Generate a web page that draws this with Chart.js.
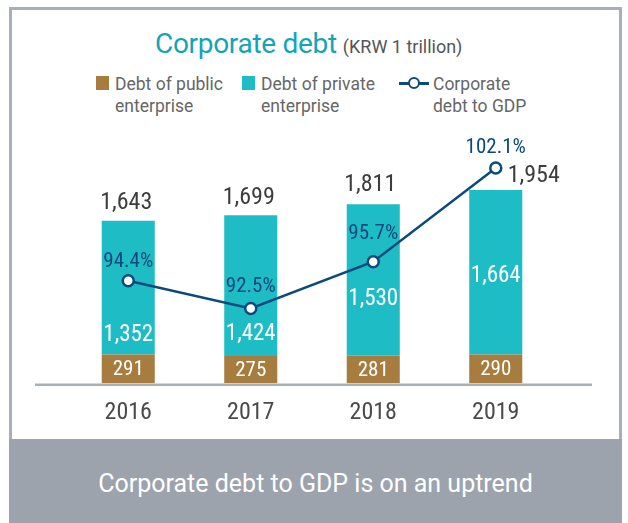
<!DOCTYPE html>
<html>
<head>
<meta charset="utf-8">
<script src="https://cdn.jsdelivr.net/npm/chart.js@4.4.1/dist/chart.umd.min.js"></script>
<style>
  html, body { margin: 0; padding: 0; background: #fff; }
  body { width: 628px; height: 523px; position: relative; overflow: hidden; font-family: Roboto, sans-serif; }
  .frame { position: absolute; left: 9px; top: 7px; width: 607px; height: 430px; border: 3px solid #a9afb8; background: #fff; }
  .footer { position: absolute; left: 9px; top: 439px; width: 613px; height: 84px; background: #9ca3ad;
            color: #fff; font-size: 25px; line-height: 30px; text-align: center; }
  .footer span { position: absolute; left: 0; right: 0; top: 30px; }
  .title { position: absolute; left: 155px; top: 28px; line-height: 32px; white-space: nowrap; }
  .title b { font-weight: 400; font-size: 28px; color: #14a4b7; letter-spacing: -0.3px; }
  .title small { font-size: 18px; color: #555; margin-left: 6px; }
  .lg-box { position: absolute; top: 76px; width: 13px; height: 14px; }
  .lg-text { position: absolute; top: 73px; font-size: 17.5px; line-height: 22px; color: #666; }
  .lg-line { position: absolute; left: 399px; top: 82px; width: 30px; height: 2.5px; background: #0c4a7d; }
  .lg-dot { position: absolute; left: 408px; top: 77px; width: 8px; height: 8px; border: 2.5px solid #0c4a7d; border-radius: 50%; background: #fff; }
  .chart-box { position: absolute; left: 0; top: 0; width: 628px; height: 440px; }
</style>
</head>
<body>
<div class="frame"></div>
<div class="footer"><span>Corporate debt to GDP is on an uptrend</span></div>

<div class="title"><b>Corporate debt</b><small>(KRW 1 trillion)</small></div>

<div class="lg-box" style="left:96px;background:#a67d3f"></div>
<div class="lg-text" style="left:115px">Debt of public<br>enterprise</div>
<div class="lg-box" style="left:242px;background:#1ebdc6"></div>
<div class="lg-text" style="left:261px">Debt of private<br>enterprise</div>
<div class="lg-line"></div>
<div class="lg-dot"></div>
<div class="lg-text" style="left:433px">Corporate<br>debt to GDP</div>

<div class="chart-box"><canvas id="debtChart"></canvas></div>

<script>
const years = ["2016", "2017", "2018", "2019"];
const publicDebt = [291, 275, 281, 290];
const privateDebt = [1352, 1424, 1530, 1664];
const debtToGdp = [94.4, 92.5, 95.7, 102.1];

const NUM_FONT = '"Liberation Sans Narrow", "Roboto Condensed", Roboto, sans-serif';
const NAVY = "#0c4a7d";

// label nudges so the numbers don't sit on the ratio line
const privateDy = [48, 49, 19, 4];
const totalDx = [-2, -2, -3, 38];
const totalDy = [-18, -17, -19, -14];
const pctDy = [-19, -22, -28, -20];

const fmt = (n) => n.toLocaleString("en-US");

const baseLine = {
  id: "baseLine",
  beforeDatasetsDraw(chart) {
    const { ctx, chartArea } = chart;
    ctx.save();
    ctx.strokeStyle = "#a9afb8";
    ctx.lineWidth = 2.5;
    ctx.beginPath();
    ctx.moveTo(chartArea.left - 32, chartArea.bottom + 1.5);
    ctx.lineTo(chartArea.right + 35, chartArea.bottom + 1.5);
    ctx.stroke();
    ctx.restore();
  },
};

const valueLabels = {
  id: "valueLabels",
  afterDatasetsDraw(chart) {
    const ctx = chart.ctx;
    const pubBars = chart.getDatasetMeta(0).data;
    const privBars = chart.getDatasetMeta(1).data;
    const points = chart.getDatasetMeta(2).data;
    ctx.save();
    ctx.textAlign = "center";
    ctx.textBaseline = "middle";

    ctx.fillStyle = "#fff";
    ctx.font = "21px " + NUM_FONT;
    pubBars.forEach((bar, i) => {
      ctx.fillText(fmt(publicDebt[i]), bar.x, (bar.y + bar.base) / 2 + 1);
    });

    ctx.font = "23px " + NUM_FONT;
    privBars.forEach((bar, i) => {
      ctx.fillText(fmt(privateDebt[i]), bar.x, (bar.y + bar.base) / 2 + privateDy[i]);
    });

    ctx.fillStyle = "#3d3d3d";
    ctx.font = "24px " + NUM_FONT;
    privBars.forEach((bar, i) => {
      ctx.fillText(fmt(publicDebt[i] + privateDebt[i]), bar.x + totalDx[i], bar.y + totalDy[i]);
    });

    ctx.fillStyle = NAVY;
    ctx.font = "21px " + NUM_FONT;
    points.forEach((pt, i) => {
      ctx.fillText(debtToGdp[i].toFixed(1) + "%", pt.x, pt.y + pctDy[i]);
    });
    ctx.restore();
  },
};

new Chart(document.getElementById("debtChart"), {
  type: "bar",
  data: {
    labels: years,
    datasets: [
      {
        label: "Debt of public enterprise",
        data: publicDebt,
        backgroundColor: "#a67d3f",
        stack: "debt",
        order: 1,
      },
      {
        label: "Debt of private enterprise",
        data: privateDebt,
        backgroundColor: "#1ebdc6",
        stack: "debt",
        order: 1,
      },
      {
        type: "line",
        label: "Corporate debt to GDP",
        data: debtToGdp,
        yAxisID: "y2",
        borderColor: NAVY,
        borderWidth: 2.5,
        pointRadius: 5.5,
        pointBorderWidth: 2.5,
        pointBackgroundColor: "#fff",
        pointBorderColor: NAVY,
        order: 0,
      },
    ],
  },
  options: {
    responsive: true,
    maintainAspectRatio: false,
    animation: false,
    layout: { padding: { left: 67, right: 71, top: 146, bottom: 6 } },
    datasets: { bar: { categoryPercentage: 1, barPercentage: 0.433 } },
    plugins: { legend: { display: false }, tooltip: { enabled: false } },
    scales: {
      x: {
        stacked: true,
        grid: { display: false },
        border: { display: false },
        ticks: { color: "#4a4a4a", font: { family: NUM_FONT, size: 24 }, padding: 7 },
      },
      y: { stacked: true, display: false, min: 0, max: 2400 },
      y2: { display: false, min: 87.4, max: 103.6 },
    },
  },
  plugins: [baseLine, valueLabels],
});
</script>
</body>
</html>
